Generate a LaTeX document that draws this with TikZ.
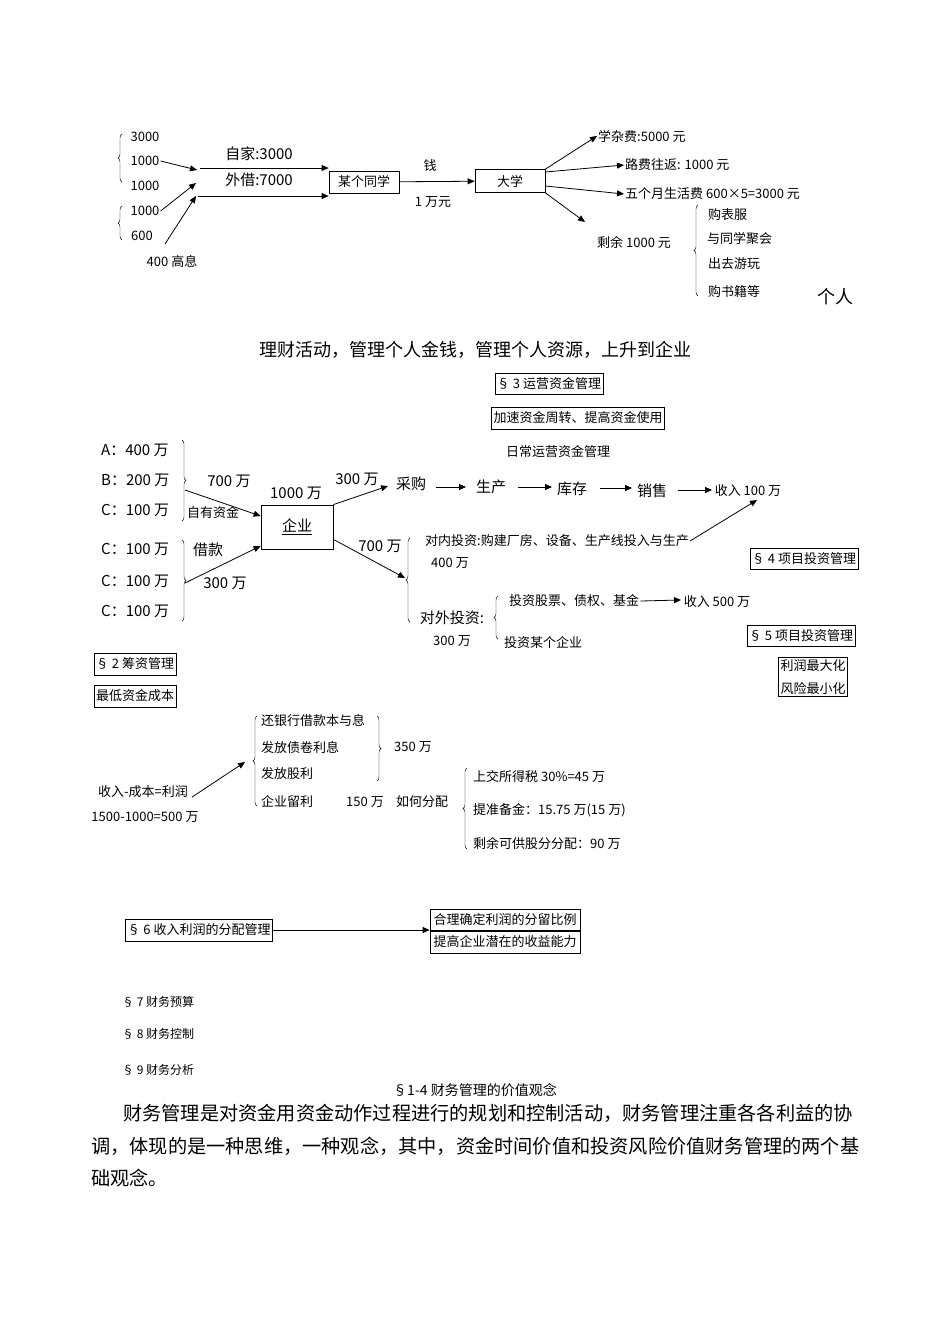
\documentclass[tikz,border=0pt]{standalone}
\usepackage{fontspec}
\setmainfont{Noto Sans CJK SC}
\usetikzlibrary{arrows.meta,decorations.pathreplacing}
\begin{document}
\begin{tikzpicture}[x=1pt,y=-1pt,
  every node/.style={inner sep=1pt,font=\fontsize{13}{14}\selectfont},
  m/.style={font=\fontsize{15}{16}\selectfont},
  big/.style={font=\fontsize{18}{20}\selectfont},
  bx/.style={draw,thick,inner sep=2pt},
  ar/.style={thick,-{Triangle[length=7pt,width=6pt]}},
  brL/.style={thin,decorate,decoration={brace,amplitude=4pt}}]
\useasboundingbox (0,0) rectangle (950,1344);
\fill[white] (0,0) rectangle (950,1344);
% ---------- top ----------
\node (t1) at (145,137) {3000};
\node (t2) at (145,161) {1000};
\node (t3) at (145,186) {1000};
\node (t4) at (145,211) {1000};
\node (t5) at (142,236) {600};
\node (t6) at (172,261) {400 高息};
\draw[brL] (122,182)--(122,134);
\draw[brL] (122,240)--(122,206);
\coordinate (j1) at (197,170);
\coordinate (j2) at (196,183);
\coordinate (j3) at (196,196);
\coordinate (s6) at (165,244);
\draw[ar] (t2.east)--(j1);
\draw[ar] (t4.east)--(j2);
\draw[ar] (s6)--(j3);
\node (zj) at (259,154) [m] {自家:3000};
\node (wj) at (259,180) [m] {外借:7000};
\node[bx,minimum width=70pt,minimum height=22pt] (tx) at (364,182) {某个同学};
\node[bx,minimum width=70pt,minimum height=23pt] (dx) at (510,181) {大学};
\draw[ar] (200,168)--(tx.west|-0,168);
\draw[ar] (198,196)--(tx.west|-0,196);
\draw[ar] (tx)--(dx);
\node (q) at (430,166) {钱};
\node (wy) at (433,202) {1 万元};
\node[anchor=west] (x1) at (597,136) {学杂费:5000 元};
\node[anchor=west] (x2) at (624,165) {路费往返: 1000 元};
\node[anchor=west] (x3) at (624,194) {五个月生活费 600×5=3000 元};
\node[anchor=west] (x4) at (596,242) {剩余 1000 元};
\draw[ar] (dx.north east)--(x1.west);
\draw[ar] (dx.east|-0,172)--(x2.west);
\draw[ar] (dx.east|-0,186)--(x3.west);
\draw[ar] (dx.south east)--(585,222);
\draw[brL] (698,296)--(698,205);
\node[anchor=west] (g1) at (707,215) {购表服};
\node[anchor=west] (g2) at (706,239) {与同学聚会};
\node[anchor=west] (g3) at (707,264) {出去游玩};
\node[anchor=west] (g4) at (707,292) {购书籍等};
\node[big] (gr) at (835,297) {个人};
\node[big] (line) at (475,350) {理财活动，管理个人金钱，管理个人资源，上升到企业};
% ---------- middle ----------
\node[bx,minimum height=21pt] (s3) at (549,384) {§ 3 运营资金管理};
\node[bx,minimum height=22pt] (js) at (578,418) {加速资金周转、提高资金使用};
\node (rc) at (558,452) {日常运营资金管理};
\node[m,anchor=west] (a) at (100,450) {A：400 万};
\node[m,anchor=west] (b) at (100,480) {B：200 万};
\node[m,anchor=west] (c1) at (100,510) {C：100 万};
\draw[brL] (182,440)--(182,521);
\node[m] (q7) at (229,481) {700 万};
\node (zy) at (213,513) {自有资金};
\node[bx,minimum width=72pt,minimum height=44pt,m] (qy) at (297,527) {\underline{企业}};
\node[m] (q1000) at (296,493) {1000 万};
\draw[ar] (185,490)--(qy.west|-0,516);
\node[m,anchor=west] (c2) at (100,549) {C：100 万};
\node[m,anchor=west] (c3) at (100,581) {C：100 万};
\node[m,anchor=west] (c4) at (100,611) {C：100 万};
\draw[brL] (182,540)--(182,621);
\node[m] (jk) at (208,550) {借款};
\node[m] (q300) at (225,583) {300 万};
\draw[ar] (185,583)--(qy.west|-0,546);
\node[m] (q3) at (357,479) {300 万};
\node[m] (cg) at (411,484) {采购};
\node[m] (sc) at (491,487) {生产};
\node[m] (kc) at (572,489) {库存};
\node[m] (xs) at (652,491) {销售};
\node (sr1) at (748,491) {收入 100 万};
\draw[ar] (qy.north east)--(388,486);
\draw[ar] (436,487)--(466,487);
\draw[ar] (518,487)--(552,487);
\draw[ar] (600,488)--(632,488);
\draw[ar] (678,490)--(712,490);
\node[m] (q700) at (380,546) {700 万};
\draw[ar] (qy.south east)++(0,-10) coordinate (qs) (qs)--(405,578);
\draw[brL] (410,622)--(410,538);
\node[anchor=west] (dn) at (424,541) {对内投资:购建厂房、设备、生产线投入与生产};
\node (d400) at (450,563) {400 万};
\draw[ar] (dn.east)--(757,500);
\node[bx,minimum height=21pt] (s4) at (804,559) {§ 4 项目投资管理};
\node[m] (dw) at (452,618) {对外投资:};
\node (d300) at (452,641) {300 万};
\draw[brL] (498,639)--(498,596);
\node[anchor=west] (gp) at (508,601) {投资股票、债权、基金};
\draw[ar] (gp.east)--(681,600);
\node (sr5) at (717,602) {收入 500 万};
\node[anchor=west] (mq) at (503,643) {投资某个企业};
\node[bx,minimum height=21pt] (s5) at (801,636) {§ 5 项目投资管理};
\node[bx,align=center,font=\fontsize{13}{23}\selectfont] (lr) at (813,677) {利润最大化\\风险最小化};
\node[bx,minimum width=80pt,minimum height=22pt] (s2) at (135,664) {§ 2 筹资管理};
\node[bx,minimum width=80pt,minimum height=22pt] (zd) at (135,696) {最低资金成本};
% ---------- lower ----------
\node (sr) at (143,792) {收入-成本=利润};
\node (eq) at (145,817) {1500-1000=500 万};
\draw[ar] (sr.east)++(3,5) coordinate (se) (se)--(245,762);
\draw[brL] (257,806)--(257,716);
\node[anchor=west] (f1) at (260,721) {还银行借款本与息};
\node[anchor=west] (f2) at (260,748) {发放债卷利息};
\node[anchor=west] (f3) at (260,774) {发放股利};
\node[anchor=west] (f4) at (260,801) {企业留利};
\draw[brL] (377,716)--(377,781);
\node (f350) at (413,747) {350 万};
\node (f150) at (365,802) {150 万};
\node (rh) at (422,802) {如何分配};
\draw[brL] (467,849)--(467,768);
\node[anchor=west] (h1) at (472,777) {上交所得税 30\%=45 万};
\node[anchor=west] (h2) at (472,810) {提准备金：15.75 万(15 万)};
\node[anchor=west] (h3) at (472,844) {剩余可供股分分配：90 万};
\node[bx,minimum height=22pt] (s6b) at (199,930) {§ 6 收入利润的分配管理};
\node[bx,minimum width=150pt,minimum height=21pt] (hl) at (505,920) {合理确定利润的分留比例};
\node[bx,minimum width=150pt,minimum height=22pt] (tg) at (505,942) {提高企业潜在的收益能力};
\draw[ar] (s6b.east)--(hl.west|-0,930);
\node[anchor=west,font=\fontsize{12}{13}\selectfont] (s7) at (121,1002) {§ 7 财务预算};
\node[anchor=west,font=\fontsize{12}{13}\selectfont] (s8) at (121,1034) {§ 8 财务控制};
\node[anchor=west,font=\fontsize{12}{13}\selectfont] (s9) at (121,1070) {§ 9 财务分析};
\node[font=\fontsize{14}{15}\selectfont] (h14) at (475,1090) {§1-4  财务管理的价值观念};
\node[anchor=west,font=\fontsize{19.2}{20}\selectfont] (p1) at (122,1113) {财务管理是对资金用资金动作过程进行的规划和控制活动，财务管理注重各各利益的协};
\node[anchor=west,font=\fontsize{19.2}{20}\selectfont] (p2) at (90,1146) {调，体现的是一种思维，一种观念，其中，资金时间价值和投资风险价值财务管理的两个基};
\node[anchor=west,font=\fontsize{19.2}{20}\selectfont] (p3) at (90,1178) {础观念。};
\end{tikzpicture}
\end{document}
